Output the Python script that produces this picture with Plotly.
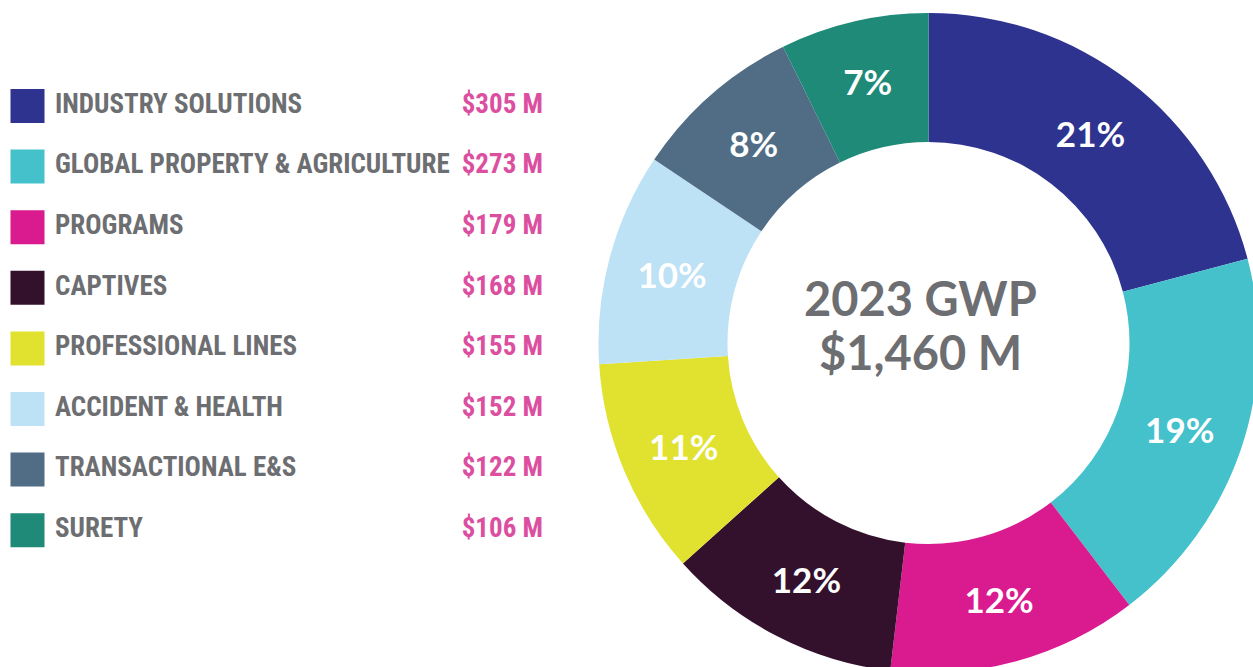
import plotly.graph_objects as go

categories = ["INDUSTRY SOLUTIONS", "GLOBAL PROPERTY & AGRICULTURE", "PROGRAMS", "CAPTIVES",
              "PROFESSIONAL LINES", "ACCIDENT & HEALTH", "TRANSACTIONAL E&S", "SURETY"]
values = [305, 273, 179, 168, 155, 152, 122, 106]
value_labels = ["$305 M", "$273 M", "$179 M", "$168 M", "$155 M", "$152 M", "$122 M", "$106 M"]
colors = ["#2e3390", "#45c1cc", "#d91b8f", "#33112d", "#e1e230", "#bde1f5", "#506d85", "#1e8a77"]
center_title = "2023 GWP"
center_total = "$1,460 M"

# figure slightly larger than the 1253x667 window so the donut is cut by the window edges
W, H = 1264, 673
GRAY = "#6d6e71"
PINK = "#dc4fa0"
LEG_FONT = "Liberation Sans Narrow, Roboto Condensed, Arial Narrow, sans-serif"
GEO_FONT = "Lato, Inter, sans-serif"

fig = go.Figure()

# Donut: center (928.5, 343) px, radius 330, inner radius 201
cx, cy, r = 928.5, 343, 330
fig.add_trace(go.Pie(
    labels=categories, values=values, sort=False, direction="clockwise", rotation=0,
    hole=201 / r,
    marker=dict(colors=colors, line=dict(width=0)),
    texttemplate="%{percent:.0%}", textposition="inside", insidetextorientation="horizontal",
    textfont=dict(family=GEO_FONT, size=35, color="white", weight="bold"),
    domain=dict(x=[(cx - r) / W, min(1, (cx + r) / W)],
                y=[max(0, (H - cy - r) / H), min(1, (H - cy + r) / H)]),
    showlegend=False, hoverinfo="label+value+percent",
))

# Legend squares
fig.add_trace(go.Scatter(
    x=[27.5] * len(categories), y=categories, mode="markers",
    marker=dict(symbol="square", size=34, color=colors, line=dict(width=0)),
    showlegend=False, hoverinfo="skip",
))
# Legend labels
fig.add_trace(go.Scatter(
    x=[55] * len(categories), y=categories, mode="text", text=categories,
    textposition="middle right",
    textfont=dict(family=LEG_FONT, size=27, color=GRAY, weight="bold"),
    showlegend=False, hoverinfo="skip",
))
# Legend values
fig.add_trace(go.Scatter(
    x=[543] * len(categories), y=categories, mode="text", text=value_labels,
    textposition="middle left",
    textfont=dict(family=LEG_FONT, size=27, color=PINK, weight="bold"),
    showlegend=False, hoverinfo="skip",
))

row0, step = 106, 60.6
fig.update_layout(
    width=W, height=H, margin=dict(l=0, r=0, t=0, b=0),
    paper_bgcolor="white", plot_bgcolor="white", showlegend=False,
    uniformtext=dict(minsize=35, mode="show"),
    xaxis=dict(range=[0, W], domain=[0, 1], visible=False, fixedrange=True),
    yaxis=dict(type="category", categoryorder="array", categoryarray=categories,
               range=[(H - row0) / step, -row0 / step], domain=[0, 1], visible=False, fixedrange=True),
    annotations=[
        dict(x=920 / W, y=(H - 298) / H, xref="paper", yref="paper", text=center_title,
             showarrow=False, font=dict(family=GEO_FONT, size=47, color=GRAY, weight="bold"),
             xanchor="center", yanchor="middle"),
        dict(x=920 / W, y=(H - 352) / H, xref="paper", yref="paper", text=center_total,
             showarrow=False, font=dict(family=GEO_FONT, size=47, color=GRAY, weight="bold"),
             xanchor="center", yanchor="middle"),
    ],
)

fig.write_html("out.html", config={"displayModeBar": False},
               post_script="document.body.style.margin='0';document.body.style.overflow='hidden';")
